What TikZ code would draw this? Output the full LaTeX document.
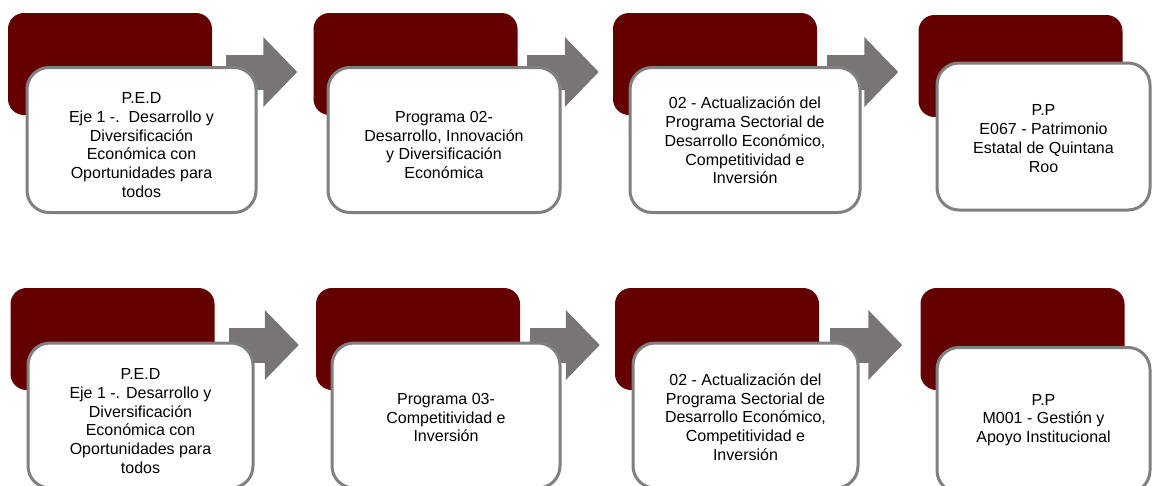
\documentclass[tikz,border=0pt]{standalone}
\usepackage{fontspec}
\setmainfont{Liberation Sans}
\usetikzlibrary{calc,arrows.meta}
\definecolor{cardred}{RGB}{99,0,0}
\definecolor{arrowgray}{RGB}{120,117,116}
\definecolor{edgegray}{RGB}{128,128,128}
\tikzset{
  darkcard/.style={rectangle, rounded corners=16pt, fill=cardred, inner sep=0pt, minimum width=204pt, minimum height=102pt},
  whitecard/.style={rectangle, rounded corners=22pt, fill=white, draw=edgegray, line width=3pt, inner sep=0pt, minimum width=229pt, minimum height=145pt},
  cardtext/.style={inner sep=0pt, align=center, font=\fontsize{16}{18.8}\selectfont},
  stagearrow/.style={draw=arrowgray, line width=35pt, -{Triangle[length=34pt,width=68pt]}}
}
\begin{document}
\begin{tikzpicture}[x=1pt,y=1pt,yscale=-1,xscale=1]
	\useasboundingbox (0,0) rectangle (1152,485);

	\node [darkcard] (d1) at (110,64) {};
	\node [darkcard] (d2) at (415.5,64) {};
	\node [darkcard] (d3) at (715,64) {};
	\node [darkcard] (d4) at (1020.5,66) {};
	\node [darkcard] (d5) at (112.5,339) {};
	\node [darkcard] (d6) at (418,339) {};
	\node [darkcard] (d7) at (717,339) {};
	\node [darkcard] (d8) at (1022.5,339) {};

	\draw [stagearrow] ($(d1.east)+(14,8)$) -- ($(d2.west)+(-16,8)$);
	\draw [stagearrow] ($(d2.east)+(9,8)$) -- ($(d3.west)+(-14,8)$);
	\draw [stagearrow] ($(d3.east)+(10,8)$) -- ($(d4.west)+(-20,6)$);
	\draw [stagearrow] ($(d5.east)+(14,6)$) -- ($(d6.west)+(-17,6)$);
	\draw [stagearrow] ($(d6.east)+(10,6)$) -- ($(d7.west)+(-15,6)$);
	\draw [stagearrow] ($(d7.east)+(11,6)$) -- ($(d8.west)+(-18,6)$);

	\node [whitecard] (w1) at (141.5,140) {};
	\node [whitecard, minimum width=232pt] (w2) at (444,140) {};
	\node [whitecard, minimum width=230pt] (w3) at (745,140) {};
	\node [whitecard, minimum width=213pt, minimum height=147pt] (w4) at (1043.5,136.5) {};
	\node [whitecard, minimum width=225pt] (w5) at (140.5,415.5) {};
	\node [whitecard, minimum width=228pt] (w6) at (446,415.5) {};
	\node [whitecard, minimum width=225pt] (w7) at (745.5,415.5) {};
	\node [whitecard, minimum width=213pt] (w8) at (1043.5,420) {};

	\node [cardtext] (t1) at ($(w1)+(0,5)$) {P.E.D\\Eje 1 -.\ \ Desarrollo y\\Diversificación\\Económica con\\Oportunidades para\\todos};
	\node [cardtext] (t2) at ($(w2)+(0,5)$) {Programa 02-\\Desarrollo, Innovación\\y Diversificación\\Económica};
	\node [cardtext] (t3) at ($(w3)+(0,0.5)$) {02 - Actualización del\\Programa Sectorial de\\Desarrollo Económico,\\Competitividad e\\Inversión};
	\node [cardtext] (t4) at ($(w4)+(0,2)$) {P.P\\E067 - Patrimonio\\Estatal de Quintana\\Roo};
	\node [cardtext] (t5) at ($(w5)+(0,5.5)$) {P.E.D\\Eje 1 -. Desarrollo y\\Diversificación\\Económica con\\Oportunidades para\\todos};
	\node [cardtext] (t6) at ($(w6)+(0,2)$) {Programa 03-\\Competitividad e\\Inversión};
	\node [cardtext] (t7) at ($(w7)+(0,1.5)$) {02 - Actualización del\\Programa Sectorial de\\Desarrollo Económico,\\Competitividad e\\Inversión};
	\node [cardtext] (t8) at ($(w8)+(0,0)$) {P.P\\M001 - Gestión y\\Apoyo Institucional};
\end{tikzpicture}
\end{document}
